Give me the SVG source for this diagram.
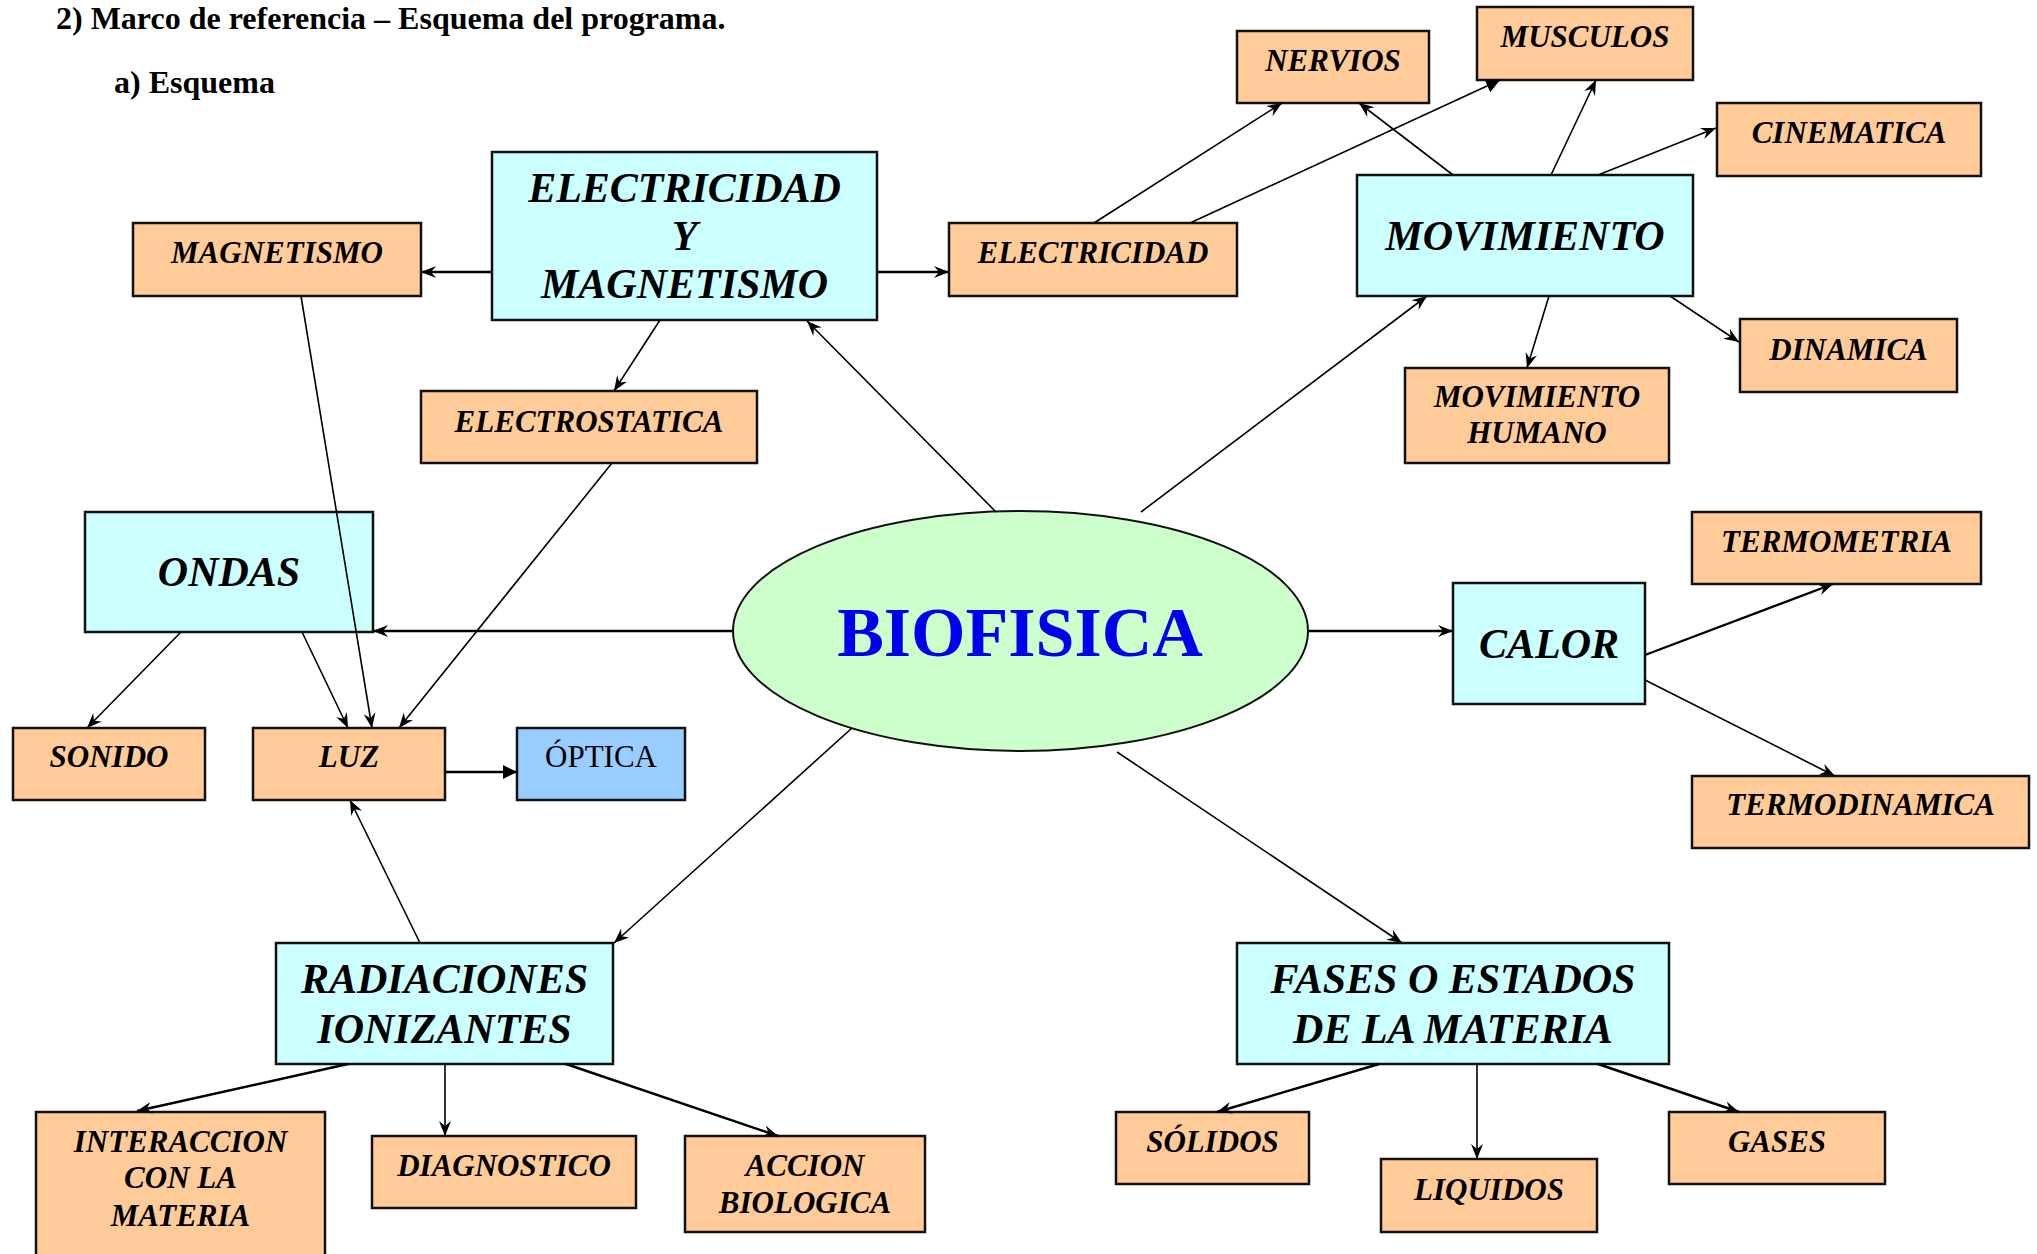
<svg xmlns="http://www.w3.org/2000/svg" width="2037" height="1254" viewBox="0 0 2037 1254">
<style>
.cy{fill:#CCFFFF;stroke:#111;stroke-width:2.5}
.or{fill:#FFCC99;stroke:#111;stroke-width:2.5}
.bl{fill:#99CCFF;stroke:#111;stroke-width:2.5}
.el{fill:#CCFFCC;stroke:#111;stroke-width:2}
.big{font-family:"Liberation Serif","Times New Roman",serif;font-weight:bold;font-style:italic;font-size:42px;text-anchor:middle;fill:#000}
.sm{font-family:"Liberation Serif","Times New Roman",serif;font-weight:bold;font-style:italic;font-size:31px;text-anchor:middle;fill:#000}
.reg{font-family:"Liberation Serif","Times New Roman",serif;font-size:31px;text-anchor:middle;fill:#000}
.ttl{font-family:"Liberation Serif","Times New Roman",serif;font-weight:bold;font-size:32px;fill:#000}
.bio{font-family:"Liberation Serif","Times New Roman",serif;font-weight:bold;font-size:70px;text-anchor:middle;fill:#0000EE}
.c{fill:none;stroke:#000;stroke-width:1.6;marker-end:url(#a)}
.t{stroke-width:2.4}
.f{marker-end:url(#b)}
</style>
<defs>
<marker id="a" markerUnits="userSpaceOnUse" markerWidth="18" markerHeight="14" refX="16" refY="6" orient="auto">
<path d="M16,6 L1,0 L6,6 L1,12 Z" fill="#000"/>
</marker>
<marker id="b" markerUnits="userSpaceOnUse" markerWidth="18" markerHeight="16" refX="14" refY="7" orient="auto">
<path d="M14,7 L0,0 L0,14 Z" fill="#000"/>
</marker>
</defs>
<rect width="2037" height="1254" fill="#fff"/>
<text class="ttl" x="56" y="29">2) Marco de referencia – Esquema del programa.</text>
<text class="ttl" x="114" y="93">a) Esquema</text>

<g id="biofisica"><ellipse class="el" cx="1020.5" cy="631" rx="287.5" ry="120"/><text class="bio" x="1020" y="656">BIOFISICA</text></g>
<g id="eym"><rect class="cy" x="492" y="152" width="385" height="168"/><text class="big" x="684.5" y="202">ELECTRICIDAD</text><text class="big" x="684.5" y="250">Y</text><text class="big" x="684.5" y="298">MAGNETISMO</text></g>
<g id="magnetismo"><rect class="or" x="133" y="223" width="288" height="73"/><text class="sm" x="277" y="263">MAGNETISMO</text></g>
<g id="electricidad"><rect class="or" x="949" y="223" width="288" height="73"/><text class="sm" x="1093" y="263">ELECTRICIDAD</text></g>
<g id="electrostatica"><rect class="or" x="421" y="391" width="336" height="72"/><text class="sm" x="589" y="432">ELECTROSTATICA</text></g>
<g id="nervios"><rect class="or" x="1237" y="31" width="192" height="72"/><text class="sm" x="1333" y="71">NERVIOS</text></g>
<g id="musculos"><rect class="or" x="1477" y="7" width="216" height="73"/><text class="sm" x="1585" y="47">MUSCULOS</text></g>
<g id="cinematica"><rect class="or" x="1717" y="103" width="264" height="73"/><text class="sm" x="1849" y="143">CINEMATICA</text></g>
<g id="movimiento"><rect class="cy" x="1357" y="175" width="336" height="121"/><text class="big" x="1525" y="250">MOVIMIENTO</text></g>
<g id="dinamica"><rect class="or" x="1740" y="319" width="217" height="73"/><text class="sm" x="1848.5" y="360">DINAMICA</text></g>
<g id="movhumano"><rect class="or" x="1405" y="368" width="264" height="95"/><text class="sm" x="1537" y="407">MOVIMIENTO</text><text class="sm" x="1537" y="443">HUMANO</text></g>
<g id="ondas"><rect class="cy" x="85" y="512" width="288" height="120"/><text class="big" x="229" y="586">ONDAS</text></g>
<g id="sonido"><rect class="or" x="13" y="728" width="192" height="72"/><text class="sm" x="109" y="767">SONIDO</text></g>
<g id="luz"><rect class="or" x="253" y="728" width="192" height="72"/><text class="sm" x="349" y="767">LUZ</text></g>
<g id="optica"><rect class="bl" x="517" y="728" width="168" height="72"/><text class="reg" x="601" y="767">ÓPTICA</text></g>
<g id="calor"><rect class="cy" x="1453" y="583" width="192" height="121"/><text class="big" x="1549" y="658">CALOR</text></g>
<g id="termometria"><rect class="or" x="1692" y="512" width="289" height="72"/><text class="sm" x="1836.5" y="552">TERMOMETRIA</text></g>
<g id="termodinamica"><rect class="or" x="1692" y="776" width="337" height="72"/><text class="sm" x="1860.5" y="815">TERMODINAMICA</text></g>
<g id="radiaciones"><rect class="cy" x="276" y="943" width="337" height="121"/><text class="big" x="444.5" y="993">RADIACIONES</text><text class="big" x="444.5" y="1043">IONIZANTES</text></g>
<g id="interaccion"><rect class="or" x="36" y="1112" width="289" height="150"/><text class="sm" x="180.5" y="1152">INTERACCION</text><text class="sm" x="180.5" y="1188">CON LA</text><text class="sm" x="180.5" y="1226">MATERIA</text></g>
<g id="diagnostico"><rect class="or" x="372" y="1136" width="264" height="72"/><text class="sm" x="504" y="1176">DIAGNOSTICO</text></g>
<g id="accion"><rect class="or" x="685" y="1136" width="240" height="96"/><text class="sm" x="805" y="1176">ACCION</text><text class="sm" x="805" y="1213">BIOLOGICA</text></g>
<g id="fases"><rect class="cy" x="1237" y="943" width="432" height="121"/><text class="big" x="1453" y="993">FASES O ESTADOS</text><text class="big" x="1453" y="1043">DE LA MATERIA</text></g>
<g id="solidos"><rect class="or" x="1116" y="1112" width="193" height="72"/><text class="sm" x="1212.5" y="1152">SÓLIDOS</text></g>
<g id="liquidos"><rect class="or" x="1381" y="1159" width="216" height="73"/><text class="sm" x="1489" y="1200">LIQUIDOS</text></g>
<g id="gases"><rect class="or" x="1669" y="1112" width="216" height="72"/><text class="sm" x="1777" y="1152">GASES</text></g>

<g id="connectors">
<line class="c" x1="996" y1="512" x2="807" y2="321"/>
<line class="c t" x1="492" y1="272" x2="421" y2="272"/>
<line class="c t" x1="877" y1="272" x2="949" y2="272"/>
<line class="c" x1="660" y1="320" x2="614" y2="391"/>
<line class="c" x1="301" y1="296" x2="372" y2="728"/>
<line class="c" x1="612" y1="463" x2="399" y2="728"/>
<line class="c" x1="181" y1="632" x2="87" y2="728"/>
<line class="c" x1="302" y1="632" x2="348" y2="728"/>
<line class="c t" x1="733" y1="631" x2="373" y2="631"/>
<line class="c t f" x1="445" y1="772" x2="517" y2="772"/>
<line class="c" x1="420" y1="943" x2="350" y2="800"/>
<line class="c" x1="852" y1="728" x2="614" y2="943"/>
<line class="c" x1="1141" y1="512" x2="1427" y2="296"/>
<line class="c t" x1="1309" y1="631" x2="1453" y2="631"/>
<line class="c" x1="1117" y1="752" x2="1402" y2="943"/>
<line class="c t" x1="1645" y1="655" x2="1833" y2="584"/>
<line class="c" x1="1645" y1="680" x2="1835" y2="776"/>
<line class="c" x1="1094" y1="223" x2="1282" y2="103"/>
<line class="c f" x1="1190" y1="223" x2="1500" y2="80"/>
<line class="c" x1="1453" y1="175" x2="1359" y2="103"/>
<line class="c" x1="1551" y1="175" x2="1596" y2="80"/>
<line class="c" x1="1598" y1="175" x2="1716" y2="128"/>
<line class="c" x1="1670" y1="296" x2="1739" y2="342"/>
<line class="c" x1="1549" y1="296" x2="1527" y2="368"/>
<line class="c t" x1="348" y1="1064" x2="137" y2="1111"/>
<line class="c" x1="445" y1="1064" x2="445" y2="1136"/>
<line class="c t" x1="566" y1="1064" x2="778" y2="1136"/>
<line class="c t" x1="1379" y1="1064" x2="1217" y2="1112"/>
<line class="c" x1="1477" y1="1064" x2="1477" y2="1159"/>
<line class="c t" x1="1598" y1="1064" x2="1739" y2="1112"/>
</g>
</svg>
